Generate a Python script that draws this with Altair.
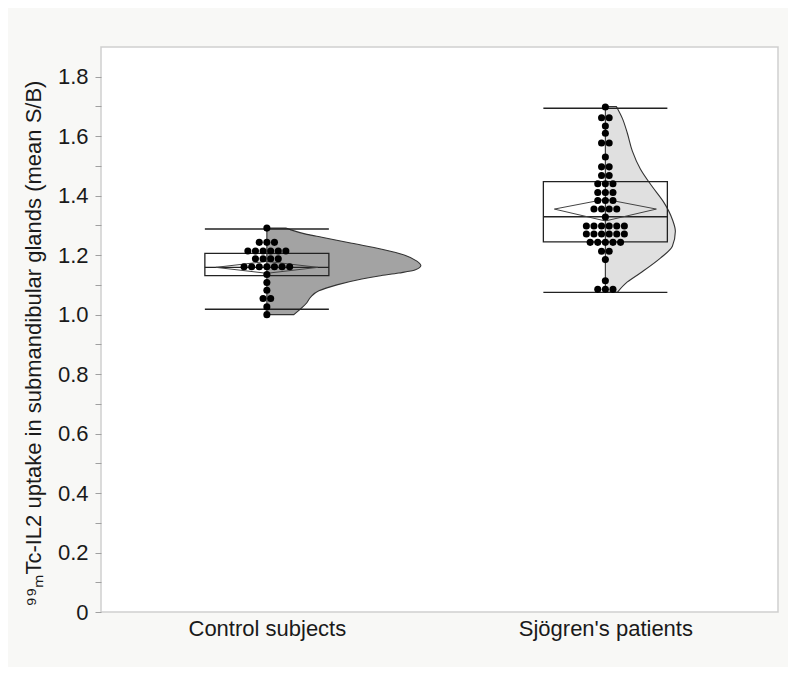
import json
import altair as alt
import pandas as pd

# ---------------- data ----------------
groups = ["Control subjects", "Sjögren's patients"]
group_pos = [0.5, 1.5]

# dot-plot rows: value of each row and number of dots in it
control_rows = [1.291, 1.243, 1.214, 1.188, 1.161, 1.135, 1.108, 1.082, 1.054, 1.026, 1.000]
control_counts = [1, 3, 6, 4, 7, 1, 1, 1, 2, 1, 1]
sjogren_rows = [1.698, 1.662, 1.634, 1.610, 1.577, 1.530, 1.497, 1.468, 1.440, 1.411,
                1.384, 1.355, 1.328, 1.298, 1.271, 1.243, 1.213, 1.185, 1.114, 1.085]
sjogren_counts = [1, 2, 1, 1, 2, 1, 2, 2, 3, 3, 3, 4, 1, 6, 6, 5, 2, 1, 1, 3]

# box plot summaries
whisker_low = [1.018, 1.075]
whisker_high = [1.288, 1.694]
q1 = [1.131, 1.245]
median = [1.159, 1.329]
q3 = [1.206, 1.447]
mean = [1.159, 1.355]
ci_low = [1.139, 1.315]
ci_high = [1.179, 1.388]

# half-violin outlines (value, relative density)
control_violin_y = [1.000, 1.020, 1.040, 1.060, 1.080, 1.100, 1.120, 1.130, 1.140, 1.150,
                    1.165, 1.180, 1.200, 1.220, 1.240, 1.260, 1.270, 1.285, 1.291]
control_violin_d = [0.27, 0.34, 0.40, 0.44, 0.52, 0.70, 0.95, 1.12, 1.32, 1.48,
                    1.54, 1.50, 1.38, 1.15, 0.85, 0.55, 0.40, 0.24, 0.19]
sjogren_violin_y = [1.075, 1.110, 1.140, 1.190, 1.230, 1.280, 1.320, 1.380, 1.430,
                    1.490, 1.550, 1.610, 1.660, 1.700]
sjogren_violin_d = [0.12, 0.22, 0.35, 0.55, 0.67, 0.70, 0.67, 0.58, 0.47,
                    0.35, 0.27, 0.22, 0.17, 0.11]

# ---------------- layout constants ----------------
W, H = 677, 565
X_DOMAIN = [0.01, 2.01]
UNIT = W / (X_DOMAIN[1] - X_DOMAIN[0])  # px per x unit
DOT_STEP = 7.6 / UNIT
BOX_HALF = 62 / UNIT
DIAMOND_HALF = 51 / UNIT
VIOLIN_SCALE = 100 / UNIT
FONT = "Liberation Sans"

# ---------------- tables ----------------
dots = []
for g, pos, rows, counts in [(groups[0], group_pos[0], control_rows, control_counts),
                             (groups[1], group_pos[1], sjogren_rows, sjogren_counts)]:
    for v, k in zip(rows, counts):
        for i in range(k):
            dots.append({"group": g, "value": v, "x": pos + (i - (k - 1) / 2) * DOT_STEP})
dots_df = pd.DataFrame(dots)

viol = []
for g, pos, ys, ds in [(groups[0], group_pos[0], control_violin_y, control_violin_d),
                       (groups[1], group_pos[1], sjogren_violin_y, sjogren_violin_d)]:
    for y, d in zip(ys, ds):
        viol.append({"group": g, "value": y, "x": pos + d * VIOLIN_SCALE, "x0": pos})
viol_df = pd.DataFrame(viol)

rules = []
for i, g in enumerate(groups):
    for v in [whisker_low[i], whisker_high[i], median[i]]:
        rules.append({"group": g, "value": v,
                      "x": group_pos[i] - BOX_HALF, "x2": group_pos[i] + BOX_HALF})
rules_df = pd.DataFrame(rules)

box_df = pd.DataFrame({
    "group": groups,
    "x": [p - BOX_HALF for p in group_pos],
    "x2": [p + BOX_HALF for p in group_pos],
    "q1": q1, "q3": q3,
})

diam = []
for i, g in enumerate(groups):
    p = group_pos[i]
    pts = [(p - DIAMOND_HALF, mean[i]), (p, ci_high[i]), (p + DIAMOND_HALF, mean[i]),
           (p, ci_low[i]), (p - DIAMOND_HALF, mean[i])]
    for k, (x, y) in enumerate(pts):
        diam.append({"group": g, "x": x, "value": y, "k": k})
diam_df = pd.DataFrame(diam)

# ---------------- scales / axes ----------------
x_scale = alt.Scale(domain=X_DOMAIN, nice=False, zero=False)
y_scale = alt.Scale(domain=[0, 1.9], nice=False)

label_expr_x = (f"datum.value < 1 ? {json.dumps(groups[0], ensure_ascii=False)}"
                f" : {json.dumps(groups[1], ensure_ascii=False)}")
x_axis = alt.Axis(values=group_pos, labelExpr=label_expr_x, ticks=False, domain=False,
                  grid=False, title=None, labelFont=FONT, labelFontSize=22,
                  labelColor="#1a1a1a", labelPadding=6)
y_axis = alt.Axis(values=[round(i * 0.1, 1) for i in range(19)],
                  labelExpr="round(datum.value*10) % 2 == 0 ? (datum.value == 0 ? '0' : format(datum.value, '.1f')) : ''",
                  tickColor="#a0a0a0", tickSize=6, domain=False, grid=False,
                  labelFont=FONT, labelFontSize=22, labelColor="#1a1a1a", labelPadding=7,
                  title="⁹⁹ₘTc-IL2 uptake in submandibular glands (mean S/B)",
                  titleFont=FONT, titleFontSize=22, titleFontWeight="normal",
                  titleColor="#1a1a1a", titleAngle=-90, titleX=-68, titleY=296,
                  titleAlign="center", titleBaseline="middle")

X = lambda f: alt.X(f, type="quantitative", scale=x_scale, axis=x_axis)
Y = lambda f: alt.Y(f, type="quantitative", scale=y_scale, axis=y_axis)

violin_fill = alt.Scale(domain=groups, range=["#a3a3a3", "#e0e0e0"])

violin = alt.Chart(viol_df).mark_area(
    orient="horizontal", interpolate="monotone", stroke="#333333", strokeWidth=1.1,
    fillOpacity=1
).encode(
    y=Y("value"), x=X("x"), x2="x0",
    fill=alt.Fill("group:N", scale=violin_fill, legend=None),
    detail="group:N",
)

box = alt.Chart(box_df).mark_rect(fillOpacity=0, stroke="#222222", strokeWidth=1.3).encode(
    x=X("x"), x2="x2", y=Y("q1"), y2="q3"
)

rule = alt.Chart(rules_df).mark_rule(color="#222222", strokeWidth=1.4).encode(
    x=X("x"), x2="x2", y=Y("value")
)

diamond = alt.Chart(diam_df).mark_line(color="#444444", strokeWidth=1).encode(
    x=X("x"), y=Y("value"), detail="group:N", order="k:Q"
)

points = alt.Chart(dots_df).mark_circle(size=50, color="#000000", opacity=1).encode(
    x=X("x"), y=Y("value")
)

chart = alt.layer(violin, box, rule, diamond, points).properties(
    width=W, height=H,
    autosize=alt.AutoSizeParams(type="none"),
    padding={"left": 93, "top": 39, "right": 10, "bottom": 55},
    background="#f8f8f6",
).configure_view(
    fill="white", stroke="#cfcfcf", strokeWidth=1.5
)

chart.save("out.html", embed_options={"renderer": "svg", "actions": False})
